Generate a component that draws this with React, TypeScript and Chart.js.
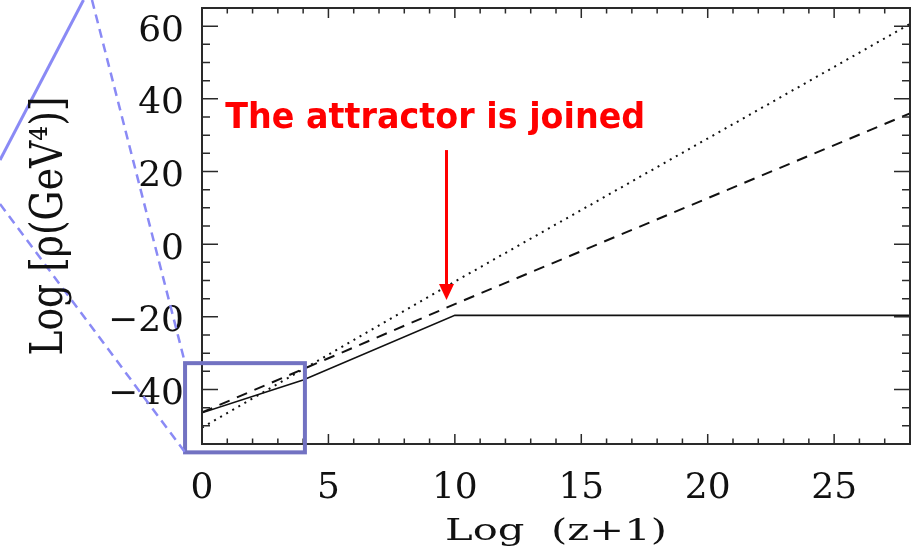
import { useEffect, useRef } from 'react';
import { Chart, registerables } from 'chart.js';

Chart.register(...registerables);

// ---- axis ranges & tick labels ----
const X_MIN = 0;
const X_MAX = 28;
const Y_MIN = -55;
const Y_MAX = 65;
const xTickLabels = [0, 5, 10, 15, 20, 25];
const yTickLabels = [-40, -20, 0, 20, 40, 60];

// ---- series (Log(z+1) vs Log rho) ----
const solidX = [0, 4, 10, 28];
const solidY = [-46.4, -37.4, -19.6, -19.6];
const dashedX = [0, 10, 28];
const dashedY = [-46.3, -16.5, 36];
const dottedX = [0, 10, 28];
const dottedY = [-50.5, -10.3, 60.6];

// ---- annotations (data coordinates) ----
const annotationText = 'The attractor is joined';
const annotationAt = { x: 0.92, y: 31.9 };
const arrow = { x: 9.67, yFrom: 25.9, yTo: -15.4 };
const zoomBox = { x0: -0.67, x1: 4.07, y0: -57.3, y1: -32.75 };
const xTitle = 'Log  (z+1)';
const yTitle = 'Log [ρ(GeV⁴)]';

const toPts = (xs: number[], ys: number[]) => xs.map((x, i) => ({ x, y: ys[i] }));

const decor = {
  id: 'decor',
  afterDraw(chart: any) {
    const { ctx, chartArea: a, scales } = chart;
    const x = scales.x;
    const y = scales.y;
    ctx.save();

    // frame
    ctx.strokeStyle = '#2a2a2a';
    ctx.lineWidth = 2;
    ctx.strokeRect(a.left, a.top, a.right - a.left, a.bottom - a.top);

    // inward tick marks on all four sides
    ctx.lineWidth = 1.5;
    ctx.beginPath();
    x.ticks.forEach((t: any) => {
      const px = x.getPixelForValue(t.value);
      const L = xTickLabels.includes(t.value) ? 10 : 5.5;
      ctx.moveTo(px, a.bottom);
      ctx.lineTo(px, a.bottom - L);
      ctx.moveTo(px, a.top);
      ctx.lineTo(px, a.top + L);
    });
    y.ticks.forEach((t: any) => {
      const py = y.getPixelForValue(t.value);
      const L = yTickLabels.includes(t.value) ? 16 : 8;
      ctx.moveTo(a.left, py);
      ctx.lineTo(a.left + L, py);
      ctx.moveTo(a.right, py);
      ctx.lineTo(a.right - L, py);
    });
    ctx.stroke();

    // zoom box
    const bx0 = x.getPixelForValue(zoomBox.x0);
    const bx1 = x.getPixelForValue(zoomBox.x1);
    const by0 = y.getPixelForValue(zoomBox.y0);
    const by1 = y.getPixelForValue(zoomBox.y1);
    ctx.strokeStyle = '#7272c2';
    ctx.lineWidth = 4;
    ctx.strokeRect(bx0, by1, bx1 - bx0, by0 - by1);

    // connector lines towards the (cut-off) zoom panel on the left
    ctx.strokeStyle = '#8a8af5';
    ctx.lineWidth = 3;
    ctx.beginPath();
    ctx.moveTo(0, 160);
    ctx.lineTo(83.5, 0);
    ctx.stroke();
    ctx.lineWidth = 2.5;
    ctx.setLineDash([9, 6]);
    ctx.beginPath();
    ctx.moveTo(92, 0);
    ctx.lineTo(bx0, by1);
    ctx.moveTo(0, 204);
    ctx.lineTo(bx0, by0);
    ctx.stroke();
    ctx.setLineDash([]);

    // red arrow
    const ax = x.getPixelForValue(arrow.x);
    const ay0 = y.getPixelForValue(arrow.yFrom);
    const ay1 = y.getPixelForValue(arrow.yTo);
    ctx.strokeStyle = '#ff0000';
    ctx.fillStyle = '#ff0000';
    ctx.lineWidth = 3;
    ctx.beginPath();
    ctx.moveTo(ax, ay0);
    ctx.lineTo(ax, ay1 - 14);
    ctx.stroke();
    ctx.beginPath();
    ctx.moveTo(ax, ay1);
    ctx.lineTo(ax - 7.5, ay1 - 16);
    ctx.lineTo(ax + 7.5, ay1 - 16);
    ctx.closePath();
    ctx.fill();

    // red annotation text
    ctx.font = 'bold 36px "DejaVu Sans", sans-serif';
    ctx.textAlign = 'left';
    ctx.textBaseline = 'alphabetic';
    const tw = ctx.measureText(annotationText).width;
    ctx.save();
    ctx.translate(x.getPixelForValue(annotationAt.x), y.getPixelForValue(annotationAt.y));
    ctx.scale(420 / tw, 1);
    ctx.fillText(annotationText, 0, 0);
    ctx.restore();

    // axis titles
    ctx.fillStyle = '#111';
    ctx.font = '30px "DejaVu Serif", serif';
    ctx.textAlign = 'center';
    const xw = ctx.measureText(xTitle).width;
    ctx.save();
    ctx.translate((a.left + a.right) / 2, 540);
    ctx.scale(222 / xw, 1);
    ctx.fillText(xTitle, 0, 0);
    ctx.restore();

    const yw = ctx.measureText(yTitle).width;
    ctx.save();
    ctx.translate(61.7, (a.top + a.bottom) / 2);
    ctx.rotate(-Math.PI / 2);
    ctx.scale(259 / yw, 1.5);
    ctx.fillText(yTitle, 0, 0);
    ctx.restore();

    ctx.restore();
  },
};

const zeroPad = (s: any) => {
  s.paddingTop = 0;
  s.paddingBottom = 0;
  s.paddingLeft = 0;
  s.paddingRight = 0;
};

export default function App() {
  const ref = useRef<HTMLCanvasElement>(null);
  useEffect(() => {
    if (!ref.current) return;
    const tickFont = { family: '"DejaVu Serif", serif', size: 36 };
    const chart = new Chart(ref.current, {
      type: 'scatter',
      data: {
        datasets: [
          {
            data: toPts(solidX, solidY),
            showLine: true,
            borderColor: '#111',
            borderWidth: 1.6,
            pointRadius: 0,
          },
          {
            data: toPts(dashedX, dashedY),
            showLine: true,
            borderColor: '#111',
            borderWidth: 2,
            borderDash: [11, 8],
            pointRadius: 0,
          },
          {
            data: toPts(dottedX, dottedY),
            showLine: true,
            borderColor: '#111',
            borderWidth: 2,
            borderDash: [2, 5],
            pointRadius: 0,
          },
        ],
      },
      options: {
        animation: false,
        responsive: false,
        devicePixelRatio: 1,
        layout: { padding: { left: 0, top: 8, right: 2, bottom: 0 } },
        plugins: { legend: { display: false }, tooltip: { enabled: false } },
        scales: {
          x: {
            type: 'linear',
            min: X_MIN,
            max: X_MAX,
            grid: { display: false, drawTicks: false, tickLength: 0 },
            border: { display: false },
            ticks: {
              stepSize: 1,
              autoSkip: false,
              maxRotation: 0,
              padding: 23,
              color: '#111',
              font: tickFont,
              callback: (v: any) => (xTickLabels.includes(Number(v)) ? String(v) : ''),
            },
            afterFit: (s: any) => {
              s.height = 112;
              zeroPad(s);
            },
          },
          y: {
            type: 'linear',
            min: Y_MIN,
            max: Y_MAX,
            grid: { display: false, drawTicks: false, tickLength: 0 },
            border: { display: false },
            ticks: {
              stepSize: 5,
              autoSkip: false,
              padding: 18,
              labelOffset: 5,
              color: '#111',
              font: tickFont,
              callback: (v: any) => {
                const n = Number(v);
                if (!yTickLabels.includes(n)) return '';
                return n < 0 ? '\u2212' + Math.abs(n) : String(n);
              },
            },
            afterFit: (s: any) => {
              s.width = 202;
              zeroPad(s);
            },
          },
        },
      },
      plugins: [decor],
    });
    return () => chart.destroy();
  }, []);
  return (
    <div style={{ position: 'fixed', left: 0, top: 0, width: 912, height: 556, background: '#fff' }}>
      <canvas ref={ref} width={912} height={556} style={{ display: 'block' }} />
    </div>
  );
}
